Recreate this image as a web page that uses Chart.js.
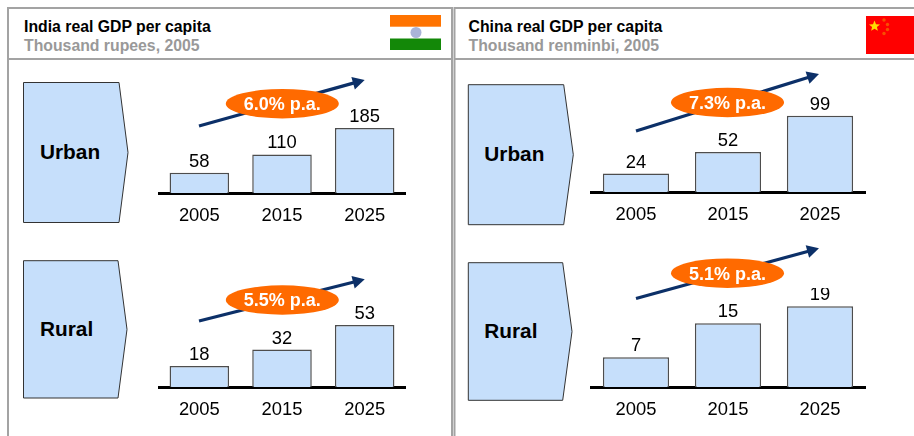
<!DOCTYPE html>
<html>
<head>
<meta charset="utf-8">
<title>Real GDP per capita</title>
<script src="https://cdn.jsdelivr.net/npm/chart.js@4"></script>
<style>
  html, body { margin: 0; padding: 0; background: #fff; width: 914px; height: 436px; overflow: hidden; }
  body { position: relative; font-family: "Liberation Sans", Arial, sans-serif; }
  canvas { position: absolute; }
  svg { position: absolute; left: 0; top: 0; }
</style>
</head>
<body>
<svg id="fondo" width="914" height="436"></svg>
<div id="graficos"></div>
<svg id="frente" width="914" height="436"></svg>

<script>
const years = ['2005', '2015', '2025'];
const indiaUrban = [58, 110, 185];
const indiaRural = [18, 32, 53];
const chinaUrban = [24, 52, 99];
const chinaRural = [7, 15, 19];

const FONT = '"Liberation Sans", Arial, sans-serif';
const NAVY = '#0c3068';

// ymax = alto del area / pixeles por unidad, como en el original las escalas no son iguales
const paneles = [
    { nombre: 'Urban', data: indiaUrban, rate: '6.0% p.a.', left: 158, width: 248, top: 92, base: 193, ymax: 287.7,
      box: [23.5, 82.5, 119, 222.5, 128], labelX: 40, arrow: [199, 126, 356, 82.4], oval: [282.3, 103.7] },
    { nombre: 'Rural', data: indiaRural, rate: '5.5% p.a.', left: 158, width: 248, top: 288, base: 387, ymax: 84.6,
      box: [23.5, 260.7, 118, 398, 127], labelX: 40, arrow: [199, 321, 356, 281.5], oval: [282.3, 300] },
    { nombre: 'Urban', data: chinaUrban, rate: '7.3% p.a.', left: 590, width: 276, top: 92, base: 192, ymax: 130,
      box: [468.3, 84.7, 563.7, 224.7, 573.3], labelX: 484.3, arrow: [636, 131, 810.4, 76.7], oval: [727.5, 102.5] },
    { nombre: 'Rural', data: chinaRural, rate: '5.1% p.a.', left: 590, width: 276, top: 288, base: 387, ymax: 23.3,
      box: [468.3, 262.7, 562.7, 400.3, 572], labelX: 484.3, arrow: [636, 298.5, 810.3, 250.7], oval: [727.5, 273.2] }
];

// etiqueta con el valor arriba de cada barra
const etiquetasBarras = {
    id: 'etiquetasBarras',
    afterDatasetsDraw(chart) {
        const ctx = chart.ctx;
        ctx.save();
        ctx.font = '18.4px ' + FONT;
        ctx.fillStyle = '#000';
        ctx.textAlign = 'center';
        ctx.textBaseline = 'alphabetic';
        chart.getDatasetMeta(0).data.forEach((barra, i) => {
            ctx.fillText(chart.data.datasets[0].data[i], barra.x, barra.y - 6);
        });
        ctx.restore();
    }
};

function generarGrafico(p) {
    const canvas = document.createElement('canvas');
    const alto = p.base - p.top + 36;
    canvas.style.left = p.left + 'px';
    canvas.style.top = p.top + 'px';
    canvas.width = p.width;
    canvas.height = alto;
    canvas.style.width = p.width + 'px';
    canvas.style.height = alto + 'px';
    document.getElementById('graficos').appendChild(canvas);

    new Chart(canvas, {
        type: 'bar',
        data: {
            labels: years,
            datasets: [{
                label: p.nombre,
                data: p.data,
                backgroundColor: '#c6dffb',
                borderColor: '#4d4d4d',
                borderWidth: { top: 1.5, left: 1.5, right: 1.5, bottom: 0 },
                borderSkipped: false,
                categoryPercentage: 1,
                barPercentage: 0.72
            }]
        },
        options: {
            responsive: false,
            animation: false,
            devicePixelRatio: 1,
            layout: { padding: 0 },
            plugins: { legend: { display: false }, tooltip: { enabled: false } },
            scales: {
                x: {
                    grid: { display: false, drawTicks: false },
                    border: { color: '#000', width: 3 },
                    ticks: { color: '#000', font: { family: FONT, size: 18.4 }, padding: 12, maxRotation: 0, autoSkip: false },
                    afterFit: s => { s.height = 36; }
                },
                y: { display: false, min: 0, max: p.ymax }
            }
        },
        plugins: [etiquetasBarras]
    });
}

paneles.forEach(generarGrafico);

// marcos, encabezados y banderas
let fondo = `
  <path d="M8 436V8H452V436M8 59H452" fill="none" stroke="#a3a3a3" stroke-width="2"/>
  <path d="M914 8H454.5V436M454.5 59H914" fill="none" stroke="#a3a3a3" stroke-width="2"/>
  <text x="24" y="32" font-family='${FONT}' font-size="15.8" font-weight="bold" fill="#000">India real GDP per capita</text>
  <text x="24" y="51" font-family='${FONT}' font-size="15.8" font-weight="bold" fill="#999">Thousand rupees, 2005</text>
  <text x="468.5" y="32" font-family='${FONT}' font-size="15.8" font-weight="bold" fill="#000">China real GDP per capita</text>
  <text x="468.5" y="51" font-family='${FONT}' font-size="15.8" font-weight="bold" fill="#999">Thousand renminbi, 2005</text>
  <rect x="390" y="15" width="51" height="11.7" fill="#ff7300"/>
  <rect x="390" y="38.5" width="51" height="11.5" fill="#138808"/>
  <circle cx="416" cy="32.5" r="5.5" fill="#aab4d8"/>
  <rect x="866" y="16" width="48" height="38" fill="#ff0000"/>
  <polygon points="874.5,20.5 876,24.3 880,24.5 876.9,27 877.9,30.8 874.5,28.7 871.1,30.8 872.1,27 869,24.5 873,24.3" fill="#ffdc00"/>
  <circle cx="884" cy="20" r="1.7" fill="#f0a000" opacity=".5"/>
  <circle cx="887.5" cy="24.5" r="1.7" fill="#f0a000" opacity=".5"/>
  <circle cx="887.5" cy="29.5" r="1.7" fill="#f0a000" opacity=".5"/>
  <circle cx="884" cy="33.5" r="1.7" fill="#f0a000" opacity=".5"/>`;

let frente = '';
paneles.forEach(p => {
    const [x0, y0, x1, y1, punta] = p.box;
    const medio = (y0 + y1) / 2;
    fondo += `<polygon points="${x0},${y0} ${x1},${y0} ${punta},${medio} ${x1},${y1} ${x0},${y1}" fill="#c6dffb" stroke="#333" stroke-width="1"/>
      <text x="${p.labelX}" y="${medio + 6.6}" font-family='${FONT}' font-size="20.8" font-weight="bold" fill="#000">${p.nombre}</text>`;

    const [ax, ay, bx, by] = p.arrow;
    const ang = Math.atan2(by - ay, bx - ax) * 180 / Math.PI;
    frente += `<line x1="${ax}" y1="${ay}" x2="${bx}" y2="${by}" stroke="${NAVY}" stroke-width="3.2"/>
      <polygon transform="translate(${bx} ${by}) rotate(${ang})" points="-3,-6.5 9,0 -3,6.5" fill="${NAVY}"/>
      <ellipse cx="${p.oval[0]}" cy="${p.oval[1]}" rx="56.5" ry="14.7" fill="#ff6a00"/>
      <text x="${p.oval[0]}" y="${p.oval[1] + 6.3}" text-anchor="middle" font-family='${FONT}' font-size="18" font-weight="bold" fill="#fff">${p.rate}</text>`;
});
document.getElementById('fondo').innerHTML = fondo;
document.getElementById('frente').innerHTML = frente;
</script>
</body>
</html>
